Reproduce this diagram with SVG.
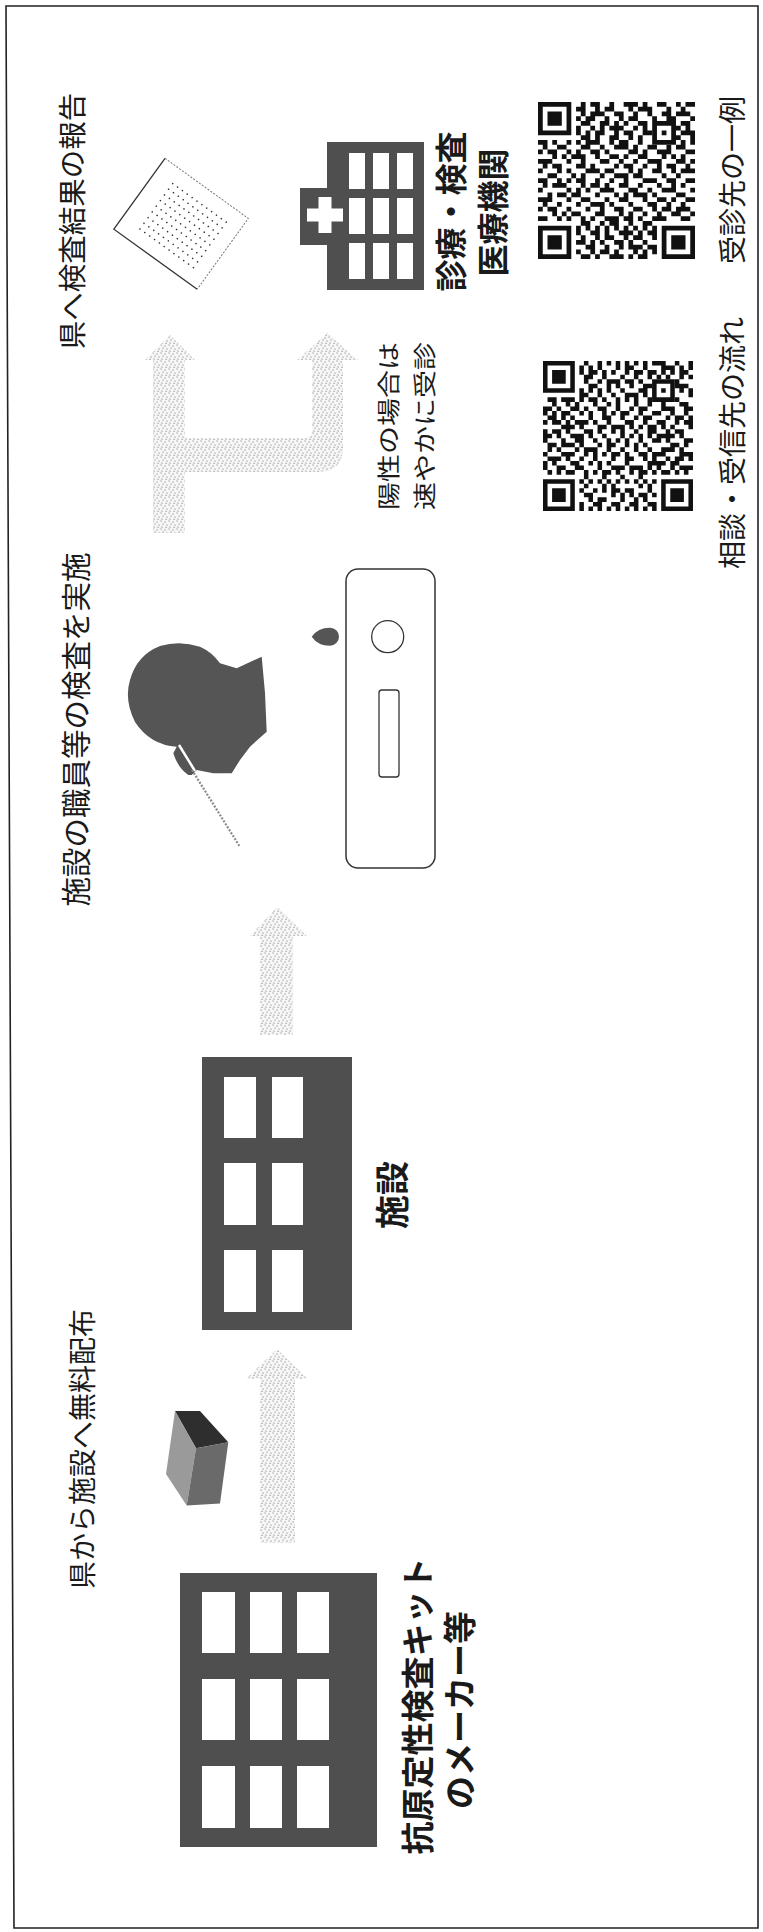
<svg xmlns="http://www.w3.org/2000/svg" width="763" height="1932" viewBox="0 0 763 1932">
<style>
.lbl{font-family:"Noto Sans CJK JP","Noto Sans CJK SC",sans-serif;fill:#1a1a1a;text-anchor:middle}
.b{font-weight:700}
.bldg{fill:#4f4f4f}
.win{fill:#fff}
.flow{fill:url(#stipple)}
.qrmod{fill:none;stroke:#111;stroke-width:1}
.qrfix{fill:#111;fill-rule:evenodd}
</style>
<defs>
  <!-- light dotted fill used by the flow arrows -->
  <pattern id="stipple" width="8" height="8" patternUnits="userSpaceOnUse">
    <rect width="8" height="8" fill="#f6f6f6"/>
    <rect x="0.5" y="0.5" width="1.1" height="1.1" fill="#8a8a8a"/>
    <rect x="4.5" y="1.5" width="1.1" height="1.1" fill="#8a8a8a"/>
    <rect x="2.5" y="3.5" width="1.1" height="1.1" fill="#8a8a8a"/>
    <rect x="6.5" y="4.5" width="1.1" height="1.1" fill="#8a8a8a"/>
    <rect x="1.5" y="6.5" width="1.1" height="1.1" fill="#8a8a8a"/>
    <rect x="5.5" y="6.8" width="1.1" height="1.1" fill="#8a8a8a"/>
  </pattern>
  <!-- QR finder and alignment marks, in module units -->
  <path id="finder" class="qrfix" d="M0 0h7v7h-7zM1 1h5v5h-5zM2 2h3v3h-3z"/>
  <g id="qrcode">
    <use href="#finder" x="0" y="0"/>
    <use href="#finder" x="0" y="26"/>
    <use href="#finder" x="26" y="26"/>
    <path class="qrfix" d="M24 4h5v5h-5zM25 5h3v3h-3zM26 6h1v1h-1z"/>
    <path class="qrmod" d="M9 .5h1M11 .5h2M15 .5h1M18 .5h3M22 .5h1M25 .5h2M29 .5h1M31 .5h2
M8 1.5h2M12 1.5h1M14 1.5h2M19 1.5h1M21 1.5h3M27 1.5h1M30 1.5h1
M9 2.5h1M11 2.5h3M16 2.5h2M20 2.5h1M23 2.5h1M26 2.5h2M29 2.5h3
M8 3.5h1M10 3.5h2M14 3.5h1M17 3.5h1M19 3.5h2M24 3.5h1M27 3.5h2M32 3.5h1
M9 4.5h2M13 4.5h2M16 4.5h1M18 4.5h1M21 4.5h2M30 4.5h2
M8 5.5h1M11 5.5h1M13 5.5h1M15 5.5h3M20 5.5h1M22 5.5h1M29 5.5h1M31 5.5h1
M8 6.5h1M10 6.5h1M12 6.5h2M16 6.5h1M18 6.5h2M22 6.5h2M30 6.5h3
M9 7.5h2M12 7.5h1M15 7.5h2M19 7.5h1M21 7.5h1M29 7.5h1M32 7.5h1
M0 8.5h2M3 8.5h1M6 8.5h1M8 8.5h1M10 8.5h3M15 8.5h1M17 8.5h2M21 8.5h1M30 8.5h1M32 8.5h1
M1 9.5h1M4 9.5h2M9 9.5h2M13 9.5h1M16 9.5h3M20 9.5h1M23 9.5h2M27 9.5h1M29 9.5h2
M0 10.5h1M2 10.5h2M6 10.5h1M8 10.5h1M11 10.5h2M14 10.5h1M19 10.5h2M22 10.5h1M25 10.5h3M31 10.5h2
M3 11.5h1M5 11.5h1M7 11.5h3M12 11.5h1M15 11.5h2M18 11.5h1M21 11.5h2M26 11.5h1M28 11.5h1M30 11.5h1
M0 12.5h3M6 12.5h1M9 12.5h1M13 12.5h2M17 12.5h1M20 12.5h1M23 12.5h3M29 12.5h2M32 12.5h1
M1 13.5h1M3 13.5h2M8 13.5h2M11 13.5h1M16 13.5h1M18 13.5h2M22 13.5h1M25 13.5h1M27 13.5h2M31 13.5h1
M0 14.5h1M4 14.5h1M6 14.5h1M10 14.5h3M14 14.5h2M19 14.5h1M21 14.5h1M24 14.5h2M28 14.5h1M30 14.5h3
M2 15.5h2M7 15.5h1M9 15.5h1M13 15.5h1M16 15.5h3M20 15.5h2M26 15.5h1M29 15.5h1
M0 16.5h2M4 16.5h1M6 16.5h1M8 16.5h2M12 16.5h1M15 16.5h1M18 16.5h1M22 16.5h3M27 16.5h2M31 16.5h2
M1 17.5h1M3 17.5h3M9 17.5h1M11 17.5h2M14 17.5h1M17 17.5h2M21 17.5h1M25 17.5h1M28 17.5h1M30 17.5h1
M0 18.5h1M6 18.5h1M8 18.5h1M10 18.5h1M13 18.5h3M19 18.5h2M23 18.5h1M26 18.5h3M32 18.5h1
M2 19.5h1M4 19.5h2M7 19.5h2M12 19.5h1M16 19.5h1M18 19.5h1M20 19.5h3M24 19.5h1M29 19.5h2
M0 20.5h3M6 20.5h1M9 20.5h2M14 20.5h1M17 20.5h2M22 20.5h1M25 20.5h2M28 20.5h1M31 20.5h2
M1 21.5h1M4 21.5h1M8 21.5h1M11 21.5h3M15 21.5h1M19 21.5h1M23 21.5h2M27 21.5h1M30 21.5h1
M0 22.5h1M2 22.5h2M6 22.5h1M10 22.5h1M13 22.5h1M16 22.5h2M20 22.5h2M24 22.5h1M26 22.5h2M29 22.5h3
M3 23.5h1M5 23.5h1M7 23.5h2M12 23.5h2M17 23.5h1M19 23.5h1M22 23.5h1M25 23.5h1M28 23.5h2M32 23.5h1
M0 24.5h2M4 24.5h1M6 24.5h1M9 24.5h1M11 24.5h1M14 24.5h3M18 24.5h2M21 24.5h1M24 24.5h3M30 24.5h2
M9 25.5h2M13 25.5h1M15 25.5h2M19 25.5h1M22 25.5h2
M8 26.5h1M10 26.5h1M12 26.5h1M14 26.5h1M16 26.5h1M18 26.5h1M20 26.5h1M22 26.5h1M24 26.5h1
M8 27.5h1M11 27.5h2M14 27.5h1M17 27.5h3M21 27.5h1M23 27.5h2
M9 28.5h1M12 28.5h1M14 28.5h2M18 28.5h1M20 28.5h2M24 28.5h1
M8 29.5h2M11 29.5h1M13 29.5h1M16 29.5h2M19 29.5h1M22 29.5h1
M10 30.5h2M14 30.5h1M17 30.5h1M19 30.5h3M23 30.5h2
M8 31.5h1M11 31.5h1M13 31.5h2M16 31.5h1M20 31.5h1M22 31.5h1M24 31.5h1
M9 32.5h2M12 32.5h1M15 32.5h3M19 32.5h1M21 32.5h2"/>
  </g>
</defs>

<rect width="763" height="1932" fill="#fff"/>
<path d="M6 6H758V1928H14Z" fill="none" stroke="#222" stroke-width="1.6"/>

<!-- flow arrows -->
<g id="connectors">
  <path class="flow" d="M277 1349L308 1379H295V1543H260V1379H246Z"/>
  <path class="flow" d="M277 907L307 936H293V1035H260V936H250Z"/>
  <path class="flow" d="M170 335L195 360H185V438H304Q312 438 312 430V360H297L327 333L358 360H343V447Q343 472 318 472H185V533H153V360H145Z"/>
</g>

<!-- kit maker -->
<g id="maker">
  <rect class="bldg" x="180" y="1573" width="197" height="274"/>
  <rect class="win" x="202" y="1592" width="33" height="61"/>
  <rect class="win" x="250" y="1592" width="32" height="61"/>
  <rect class="win" x="297" y="1592" width="32" height="61"/>
  <rect class="win" x="202" y="1679" width="33" height="61"/>
  <rect class="win" x="250" y="1679" width="32" height="61"/>
  <rect class="win" x="297" y="1679" width="32" height="61"/>
  <rect class="win" x="202" y="1766" width="33" height="62"/>
  <rect class="win" x="250" y="1766" width="32" height="62"/>
  <rect class="win" x="297" y="1766" width="32" height="62"/>
  <text class="lbl b" font-size="33" transform="translate(430 1706) rotate(-90)">抗原定性検査キット</text>
  <text class="lbl b" font-size="33" transform="translate(472 1710) rotate(-90)">のメーカー等</text>
</g>

<!-- kit box handed out -->
<g id="kitbox">
  <polygon points="175,1411 200,1411 228.3,1442.3 196,1448.2" fill="#2e2e2e"/>
  <polygon points="175,1411 196,1448.2 186.7,1505.6 166,1474" fill="#9a9a9a"/>
  <polygon points="196,1448.2 228.3,1442.3 220,1503.6 186.7,1505.6" fill="#6a6a6a"/>
  <text class="lbl" font-size="28" transform="translate(93 1449) rotate(-90)">県から施設へ無料配布</text>
</g>

<!-- facility -->
<g id="facility">
  <rect class="bldg" x="202" y="1057" width="150" height="273"/>
  <rect class="win" x="224" y="1077" width="32" height="61"/>
  <rect class="win" x="272" y="1077" width="31" height="61"/>
  <rect class="win" x="224" y="1163" width="32" height="62"/>
  <rect class="win" x="272" y="1163" width="31" height="62"/>
  <rect class="win" x="224" y="1250" width="32" height="62"/>
  <rect class="win" x="272" y="1250" width="31" height="62"/>
  <text class="lbl b" font-size="34" transform="translate(405 1195) rotate(-90)">施設</text>
</g>

<!-- staff taking a sample -->
<g id="sampling">
  <path fill="#555" d="M196.7 770L191.7 775L188.3 775Q178 768 173.3 753.3L176.7 746.7Q150 745 135 722Q124 700 130 680Q137 655 160 646Q180 640 200 646.7Q212 652 220 663.3L236.7 668.3L261.7 656.7L265 693L266.7 731.7L250 746.7L240 760L231.7 773.3L213.3 773.3Z"/>
  <line x1="179" y1="745" x2="195" y2="771" stroke="#fff" stroke-width="2.5"/>
  <line x1="192" y1="770" x2="240" y2="847" stroke="#8a8a8a" stroke-width="2.2" stroke-dasharray="2 1.5"/>
  <text class="lbl" font-size="29.5" transform="translate(87 729.5) rotate(-90)">施設の職員等の検査を実施</text>
</g>

<!-- test cassette -->
<g id="cassette">
  <path fill="#555" d="M311.7 636.7Q318 627.6 330 627.7A9 9 0 1 1 330 645.7Q318 645.8 311.7 636.7Z"/>
  <rect x="346" y="569" width="89" height="299" rx="12" fill="#fff" stroke="#333" stroke-width="1.5"/>
  <circle cx="387.7" cy="636.7" r="16" fill="none" stroke="#333" stroke-width="1.3"/>
  <rect x="379" y="690" width="20" height="87" rx="3" fill="none" stroke="#333" stroke-width="1.3"/>
</g>

<!-- positive case note -->
<g id="positive-note">
  <text class="lbl" font-size="28" transform="translate(397 426) rotate(-90) scale(1 0.8)">陽性の場合は</text>
  <text class="lbl" font-size="28" transform="translate(433 426) rotate(-90) scale(1 0.8)">速やかに受診</text>
</g>

<!-- report sheet -->
<g id="report">
  <g transform="translate(165 158.3) rotate(35.8)">
    <rect width="102.7" height="87.4" fill="#fff"/>
    <path d="M0 0V87.4H102.7" fill="none" stroke="#333" stroke-width="1.3"/>
    <path d="M0 0H102.7V87.4" fill="none" stroke="#777" stroke-width="1" stroke-dasharray="2 1.5"/>
    <path d="M21 16H89M21 23H89M21 30H89M21 37H89M21 44H89M21 51H89M21 58H89M21 65H89M21 72H89" fill="none" stroke="#333" stroke-width="1.6" stroke-linecap="round" stroke-dasharray="0 6"/>
  </g>
  <text class="lbl" font-size="28.5" transform="translate(83 221) rotate(-90)">県へ検査結果の報告</text>
</g>

<!-- clinic -->
<g id="clinic">
  <rect class="bldg" x="300" y="188" width="27" height="57"/>
  <rect class="bldg" x="327" y="142" width="97" height="148"/>
  <rect class="win" x="307" y="208.5" width="36" height="13"/>
  <rect class="win" x="318.5" y="197" width="13" height="36"/>
  <rect class="win" x="349" y="153" width="16" height="36"/>
  <rect class="win" x="373" y="153" width="16" height="36"/>
  <rect class="win" x="397" y="153" width="16" height="36"/>
  <rect class="win" x="349" y="198" width="16" height="36"/>
  <rect class="win" x="373" y="198" width="16" height="36"/>
  <rect class="win" x="397" y="198" width="16" height="36"/>
  <rect class="win" x="349" y="243" width="16" height="36"/>
  <rect class="win" x="373" y="243" width="16" height="36"/>
  <rect class="win" x="397" y="243" width="16" height="36"/>
  <text class="lbl b" font-size="32" transform="translate(463 211.5) rotate(-90)">診療・検査</text>
  <text class="lbl b" font-size="32" transform="translate(505 212.5) rotate(-90)">医療機関</text>
</g>

<!-- contact codes -->
<g id="qr-consult">
  <use href="#qrcode" transform="translate(543 361) scale(4.545) matrix(0 -1 -1 0 33 33)"/>
  <text class="lbl" font-size="28" transform="translate(743 443) rotate(-90)">相談・受信先の流れ</text>
</g>
<g id="qr-clinic">
  <use href="#qrcode" transform="translate(538 102) scale(4.758)"/>
  <text class="lbl" font-size="28" transform="translate(743 180) rotate(-90)">受診先の一例</text>
</g>
</svg>
